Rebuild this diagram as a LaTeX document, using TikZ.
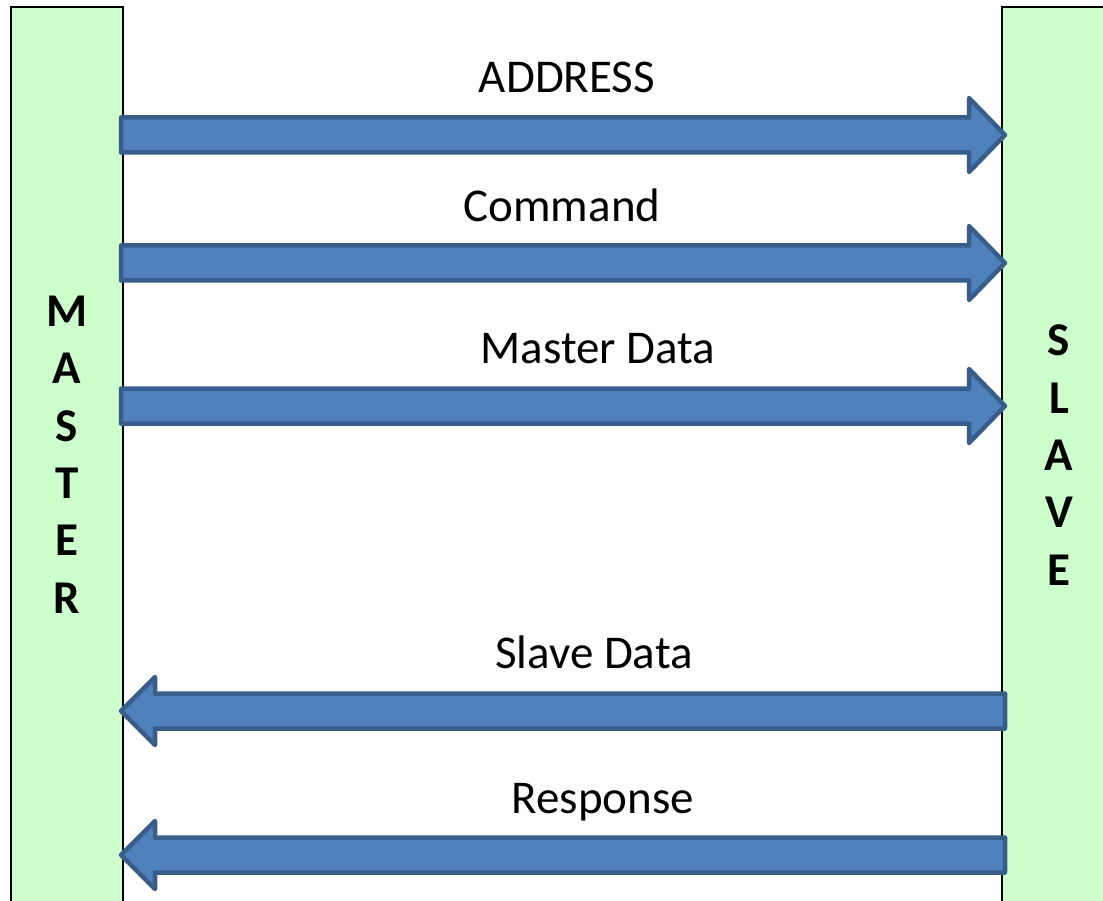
\documentclass[tikz,border=0pt]{standalone}
\usepackage{fontspec}
\setmainfont{Carlito}
\definecolor{barfill}{HTML}{CCFFCC}
\definecolor{arrfill}{HTML}{4F81BD}
\definecolor{arrline}{HTML}{385D8A}
\tikzset{
  bar/.style={draw=black, line width=2.5pt, fill=barfill},
  blockarrow/.style={draw=arrline, fill=arrfill, line width=4.5pt, line join=round},
  lbl/.style={anchor=base, inner sep=0pt, font=\fontsize{47}{57.3}\selectfont},
  side/.style={anchor=base, inner sep=0pt, align=center, font=\fontsize{47}{57.3}\selectfont\bfseries}
}
% right-pointing block arrow: #1 centre y
\newcommand\blockR[1]{%
  \draw[blockarrow] (mr|-0,#1-17.5) -- (969,#1-17.5) -- (969,#1-37) -- (1005,#1)
    -- (969,#1+37) -- (969,#1+17.5) -- (mr|-0,#1+17.5) -- cycle;}
\newcommand\blockL[1]{%
  \draw[blockarrow] (sl|-0,#1-17.5) -- (155,#1-17.5) -- (155,#1-34) -- (121,#1)
    -- (155,#1+34) -- (155,#1+17.5) -- (sl|-0,#1+17.5) -- cycle;}
\begin{document}
\begin{tikzpicture}[x=1pt,y=-1pt]
  \useasboundingbox (0,0) rectangle (1103,901);
  \clip (0,0) rectangle (1103,901);
  \fill[white] (0,0) rectangle (1103,901);
  % bars
  \draw[bar] (11,7) rectangle (123,915);
  \draw[bar] (1002,7) rectangle (1114,915);
  \coordinate (mr) at (121,0);
  \coordinate (sl) at (1005,0);
  % vertical labels (anchor base = baseline of last line)
  \node[side] (master) at (67,613) {M\\A\\S\\T\\E\\R};
  \node[side] (slave) at (1059,585) {S\\L\\A\\V\\E};
  % arrows
  \blockR{135}
  \blockR{263}
  \blockR{406}
  \blockL{711}
  \blockL{855}
  % labels
  \node[lbl] (address) at (567,93) {ADDRESS};
  \node[lbl] (command) at (562,222) {Command};
  \node[lbl] (mdata) at (598,363) {Master Data};
  \node[lbl] (sdata) at (594,668) {Slave Data};
  \node[lbl] (resp) at (603,813) {Response};
\end{tikzpicture}
\end{document}
